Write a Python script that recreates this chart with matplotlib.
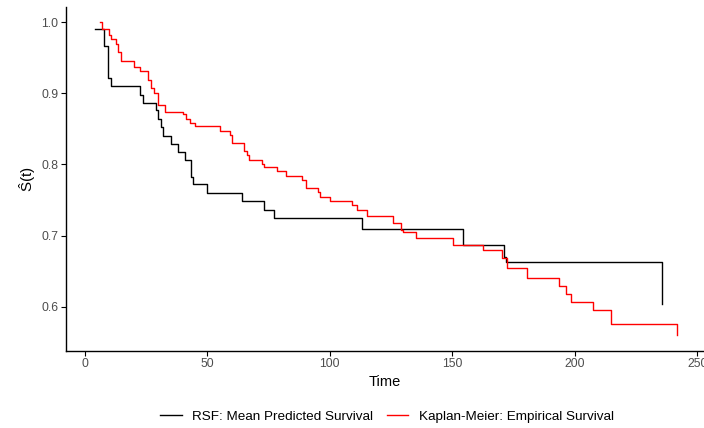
"""RSF mean predicted survival vs Kaplan-Meier estimate."""
import matplotlib
matplotlib.use("Agg")
import matplotlib.pyplot as plt

plt.rcParams["font.family"] = ["Liberation Sans", "DejaVu Sans"]
plt.rcParams["mathtext.fontset"] = "custom"
plt.rcParams["mathtext.rm"] = "Liberation Sans"
plt.rcParams["mathtext.it"] = "Liberation Sans"

# RSF mean predicted survival (step points)
rsf_time = [4.2, 7.9, 9.7, 10.8, 22.7, 24.0, 29.0, 29.8, 31.3, 32.1, 35.3, 38.0,
            41.0, 43.5, 44.2, 50.1, 64.1, 73.1, 77.2, 113.2, 154.4, 171.3,
            171.9, 235.7]
rsf_surv = [0.990, 0.966, 0.922, 0.910, 0.898, 0.887, 0.876, 0.864, 0.852, 0.840,
            0.829, 0.818, 0.806, 0.783, 0.772, 0.760, 0.748, 0.736, 0.725, 0.709,
            0.686, 0.6695, 0.6625, 0.603]

# Kaplan-Meier empirical survival (step points)
km_time = [6.3, 6.9, 10.0, 10.8, 12.9, 13.8, 14.7, 20.2, 22.7, 26.0, 27.1, 28.3,
           30.1, 32.9, 40.0, 41.4, 43.0, 45.0, 55.2, 59.2, 60.0, 65.2, 66.1,
           67.1, 72.3, 73.2, 78.4, 82.1, 88.6, 90.2, 95.4, 96.2, 100.2, 109.3,
           111.0, 115.1, 126.0, 129.3, 130.1, 135.3, 150.5, 162.5, 170.4, 172.3,
           180.4, 193.5, 196.5, 198.5, 207.4, 214.7, 241.7]
km_surv = [1.000, 0.990, 0.9826, 0.976, 0.9695, 0.958, 0.946, 0.937, 0.932, 0.919,
           0.908, 0.901, 0.883, 0.874, 0.871, 0.864, 0.859, 0.854, 0.847, 0.841,
           0.830, 0.819, 0.813, 0.806, 0.801, 0.796, 0.791, 0.784, 0.778, 0.767,
           0.761, 0.754, 0.748, 0.743, 0.736, 0.728, 0.718, 0.708, 0.705, 0.697,
           0.687, 0.679, 0.669, 0.6545, 0.640, 0.6295, 0.618, 0.607, 0.595,
           0.576, 0.560]

x_ticks = [0, 50, 100, 150, 200, 250]
y_ticks = [0.6, 0.7, 0.8, 0.9, 1.0]


def main():
    fig = plt.figure(figsize=(7.04, 4.28), dpi=100)
    ax = fig.add_axes([66 / 704, 77.3 / 428, 1 - 66 / 704, 343.7 / 428])

    ax.step(rsf_time, rsf_surv, where="post", color="black", lw=1.0,
            label="RSF: Mean Predicted Survival")
    ax.step(km_time, km_surv, where="post", color="red", lw=1.0,
            label="Kaplan-Meier: Empirical Survival")

    ax.set_xlim(-7.6, 252.8)
    ax.set_ylim(0.538, 1.0215)
    ax.set_xticks(x_ticks)
    ax.set_yticks(y_ticks)
    ax.set_yticklabels([f"{v:.1f}" for v in y_ticks])

    for side in ("top", "right"):
        ax.spines[side].set_visible(False)
    for side in ("left", "bottom"):
        ax.spines[side].set_linewidth(1.0)
        ax.spines[side].set_color("black")
    ax.tick_params(direction="out", length=3.5, width=0.8, color="black",
                   labelsize=8.8, labelcolor="#4d4d4d", pad=2)

    ax.set_xlabel("Time", fontsize=10.5, labelpad=3)
    ax.set_ylabel(r"$\hat{\mathrm{S}}\mathrm{(t)}$", fontsize=11, labelpad=2)

    fig.legend(loc="center", bbox_to_anchor=(0.55, 0.026), ncol=2,
               frameon=False, fontsize=9.7, handlelength=1.6,
               handletextpad=0.8, columnspacing=1.0)

    fig.savefig("out.png", dpi=100)


if __name__ == "__main__":
    main()
